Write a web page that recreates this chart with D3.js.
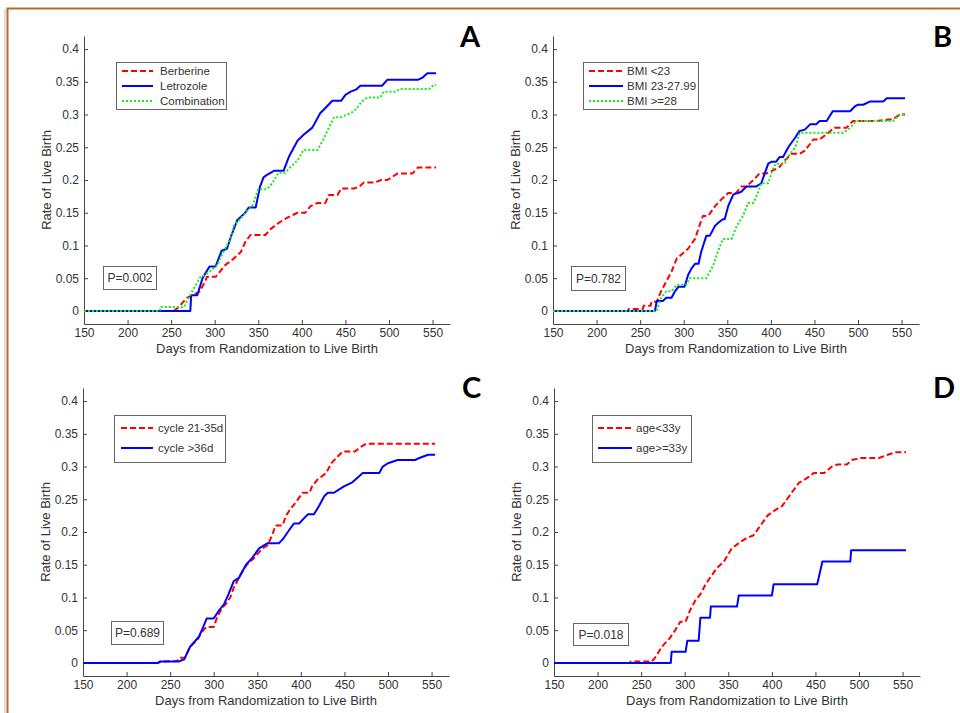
<!DOCTYPE html>
<html><head><meta charset="utf-8">
<script src="https://cdn.jsdelivr.net/npm/d3@7"></script>
<style>html,body{margin:0;padding:0;background:#fff;}svg{display:block;}</style>
</head><body>
<svg id="chart" width="960" height="713"></svg>
<script>
// ---------------- DATA ----------------
const xTicks = [150, 200, 250, 300, 350, 400, 450, 500, 550];
const yTicks = [0, 0.05, 0.1, 0.15, 0.2, 0.25, 0.3, 0.35, 0.4];
const yTickLabels = ["0", "0.05", "0.1", "0.15", "0.2", "0.25", "0.3", "0.35", "0.4"];
const panelLetters = ["A", "B", "C", "D"];
const pValues = ["P=0.002", "P=0.782", "P=0.689", "P=0.018"];
const xLabel = "Days from Randomization to Live Birth";
const yLabel = "Rate of Live Birth";

// Panel A
const seriesNamesA = ["Berberine", "Letrozole", "Combination"];
const berberineDays = [150,253,258,268,276,283,289,291,301,306,312,322,330,335,341,358,364,374,380,387,395,404,410,418,427,431,441,445,460,466,471,483,491,498,504,510,527,533,554];
const berberineRate = [0,0,0.005,0.02,0.025,0.03,0.045,0.052,0.052,0.06,0.07,0.08,0.09,0.105,0.116,0.116,0.125,0.135,0.14,0.145,0.15,0.15,0.16,0.165,0.165,0.177,0.177,0.187,0.187,0.19,0.196,0.196,0.2,0.2,0.205,0.21,0.21,0.219,0.219];
const letrozoleDays = [150,272,273,280,286,294,301,308,314,319,326,335,339,347,352,356,360,368,379,385,395,402,412,421,427,435,445,450,456,462,467,492,498,533,538,544,554];
const letrozoleRate = [0,0,0.024,0.024,0.05,0.068,0.068,0.092,0.095,0.115,0.139,0.15,0.158,0.158,0.19,0.204,0.208,0.214,0.214,0.235,0.26,0.269,0.28,0.302,0.31,0.321,0.321,0.33,0.335,0.338,0.344,0.344,0.353,0.353,0.356,0.363,0.363];
const combinationDays = [150,237,238,265,270,283,289,296,303,308,318,322,329,335,343,350,360,366,373,381,387,395,402,418,424,431,437,445,452,460,469,475,490,494,508,512,546,551,554];
const combinationRate = [0,0,0.006,0.006,0.02,0.051,0.055,0.062,0.07,0.085,0.11,0.13,0.14,0.15,0.16,0.186,0.186,0.195,0.211,0.211,0.22,0.23,0.246,0.246,0.26,0.28,0.296,0.296,0.3,0.305,0.32,0.326,0.326,0.335,0.335,0.339,0.339,0.345,0.345];

// Panel B
const seriesNamesB = ["BMI <23", "BMI 23-27.99", "BMI >=28"];
const bmiLowDays = [150,236,237,253,254,262,263,269,274,280,286,292,299,305,313,318,322,328,336,343,351,360,366,372,380,387,395,403,410,416,424,433,439,445,449,456,464,473,487,494,510,520,540,548,554];
const bmiLowRate = [0,0,0.003,0.003,0.008,0.008,0.014,0.014,0.03,0.045,0.06,0.08,0.088,0.095,0.11,0.13,0.145,0.145,0.16,0.17,0.18,0.18,0.19,0.19,0.2,0.21,0.21,0.215,0.22,0.23,0.24,0.24,0.245,0.255,0.262,0.262,0.27,0.28,0.28,0.29,0.29,0.29,0.293,0.3,0.3];
const bmiMidDays = [150,267,269,276,280,286,290,294,301,305,309,313,317,320,326,330,332,336,340,345,347,351,357,362,366,372,383,389,393,397,401,406,410,414,420,428,433,439,445,452,456,464,471,491,496,500,506,514,529,533,554];
const bmiMidRate = [0,0,0.015,0.015,0.02,0.02,0.03,0.037,0.037,0.055,0.065,0.072,0.072,0.09,0.115,0.115,0.12,0.13,0.135,0.14,0.14,0.16,0.178,0.18,0.182,0.19,0.19,0.195,0.21,0.225,0.228,0.228,0.235,0.235,0.25,0.265,0.275,0.277,0.285,0.285,0.29,0.29,0.305,0.305,0.312,0.315,0.315,0.32,0.32,0.325,0.325];
const bmiHighDays = [150,269,274,280,286,292,303,307,326,334,339,345,355,361,368,374,380,385,389,397,403,406,416,422,428,433,483,491,498,540,548,554];
const bmiHighRate = [0,0,0.02,0.03,0.03,0.04,0.04,0.05,0.05,0.07,0.09,0.11,0.11,0.13,0.145,0.165,0.165,0.18,0.195,0.195,0.22,0.225,0.225,0.24,0.25,0.272,0.272,0.28,0.29,0.29,0.3,0.3];

// Panel C
const seriesNamesC = ["cycle 21-35d", "cycle >36d"];
const cycleShortDays = [150,236,240,258,261,267,273,281,288,292,300,304,310,314,319,323,327,333,338,346,356,362,367,371,379,383,388,394,402,410,413,419,429,435,442,448,462,469,475,554];
const cycleShortRate = [0,0,0.002,0.003,0.008,0.008,0.025,0.035,0.05,0.055,0.055,0.07,0.085,0.09,0.1,0.115,0.125,0.14,0.15,0.16,0.175,0.18,0.195,0.21,0.21,0.225,0.235,0.245,0.26,0.26,0.27,0.28,0.29,0.305,0.315,0.323,0.323,0.33,0.335,0.335];
const cycleLongDays = [150,236,238,260,263,266,273,283,288,292,300,306,312,317,323,329,337,344,352,362,375,380,385,392,398,403,408,415,421,427,431,438,444,450,458,465,471,490,494,500,511,531,536,546,554];
const cycleLongRate = [0,0,0.002,0.002,0.004,0.005,0.025,0.04,0.055,0.068,0.068,0.08,0.09,0.105,0.125,0.13,0.15,0.16,0.175,0.183,0.183,0.19,0.2,0.213,0.213,0.22,0.227,0.227,0.24,0.255,0.26,0.26,0.265,0.27,0.275,0.283,0.29,0.29,0.3,0.305,0.31,0.31,0.313,0.318,0.318];

// Panel D
const seriesNamesD = ["age<33y", "age>=33y"];
const ageYoungDays = [150,237,238,262,266,274,283,289,295,301,306,312,318,324,329,337,345,354,362,370,379,387,395,402,412,420,431,441,448,460,469,475,486,492,502,523,533,542,554];
const ageYoungRate = [0,0,0.002,0.002,0.008,0.025,0.038,0.05,0.063,0.063,0.08,0.095,0.105,0.12,0.13,0.145,0.155,0.175,0.183,0.19,0.195,0.21,0.225,0.232,0.24,0.255,0.275,0.283,0.29,0.29,0.3,0.303,0.303,0.31,0.313,0.313,0.318,0.322,0.322];
const ageOldDays = [150,284,285,301,303,316,318,329,330,360,362,400,402,452,458,490,491,554];
const ageOldRate = [0,0,0.017,0.017,0.034,0.034,0.069,0.069,0.086,0.086,0.103,0.103,0.12,0.12,0.155,0.155,0.172,0.172];

// ---------------- STYLES / LAYOUT ----------------
const styles = {
  red:   {color: "#ff0000", dash: "6,3"},
  blue:  {color: "#0000ff", dash: null},
  green: {color: "#11ee11", dash: "2,2"}
};
const zip = (d, r) => d.map((v, i) => ({day: v, rate: r[i]}));

const panels = [
  {left: 84, top: 36, letter: [460, 47],
   legend: {x: 116, y: 62, w: 110, h: 47, rows: [71, 86, 101], lx: [122, 153], tx: 160},
   pbox: {x: 103, y: 266, w: 53, h: 23},
   series: [
     {name: seriesNamesA[0], data: zip(berberineDays, berberineRate), s: styles.red},
     {name: seriesNamesA[1], data: zip(letrozoleDays, letrozoleRate), s: styles.blue},
     {name: seriesNamesA[2], data: zip(combinationDays, combinationRate), s: styles.green}]},
  {left: 553, top: 36, letter: [933, 47],
   legend: {x: 583, y: 62, w: 115, h: 47, rows: [71, 86, 101], lx: [589, 623], tx: 627},
   pbox: {x: 571, y: 266, w: 54, h: 24},
   series: [
     {name: seriesNamesB[0], data: zip(bmiLowDays, bmiLowRate), s: styles.red},
     {name: seriesNamesB[1], data: zip(bmiMidDays, bmiMidRate), s: styles.blue},
     {name: seriesNamesB[2], data: zip(bmiHighDays, bmiHighRate), s: styles.green}]},
  {left: 83, top: 388, letter: [462, 398],
   legend: {x: 114, y: 415, w: 111, h: 47, rows: [428, 448], lx: [121, 153], tx: 158},
   pbox: {x: 111, y: 621, w: 52, h: 23},
   series: [
     {name: seriesNamesC[0], data: zip(cycleShortDays, cycleShortRate), s: styles.red},
     {name: seriesNamesC[1], data: zip(cycleLongDays, cycleLongRate), s: styles.blue}]},
  {left: 554, top: 388, letter: [933, 398],
   legend: {x: 592, y: 415, w: 99, h: 47, rows: [428, 448], lx: [598, 632], tx: 636},
   pbox: {x: 573, y: 623, w: 55, h: 22},
   series: [
     {name: seriesNamesD[0], data: zip(ageYoungDays, ageYoungRate), s: styles.red},
     {name: seriesNamesD[1], data: zip(ageOldDays, ageOldRate), s: styles.blue}]}
];

const W = 366, H = 288;
const svg = d3.select("#chart");
const font = "'Liberation Sans', Arial, sans-serif";
const textColor = "#333";
const axisColor = "#444";

// frame
svg.append("path").attr("d", "M5,713 V9").attr("stroke", "#ddd").attr("stroke-width", 2).attr("fill", "none");
svg.append("path").attr("d", "M7.5,713 V8.5 H960").attr("stroke", "#b86a2c").attr("stroke-width", 2).attr("fill", "none");

panels.forEach((p, pi) => {
  const x = d3.scaleLinear().domain([150, 570]).range([p.left, p.left + W]);
  const y = d3.scaleLinear().domain([-0.02, 0.42]).range([p.top + H, p.top]);
  const g = svg.append("g");

  // axes (ticks inward)
  const xAxis = d3.axisBottom(x).tickValues(xTicks).tickSize(-4).tickPadding(4).tickSizeOuter(0);
  const yAxis = d3.axisLeft(y).tickValues(yTicks).tickFormat((d, i) => yTickLabels[i]).tickSize(-4).tickPadding(7).tickSizeOuter(0);
  const gx = g.append("g").attr("transform", `translate(0,${p.top + H})`).call(xAxis);
  const gy = g.append("g").attr("transform", `translate(${p.left},0)`).call(yAxis);
  [gx, gy].forEach(a => {
    a.select(".domain").attr("stroke", axisColor);
    a.selectAll(".tick line").attr("stroke", axisColor);
    a.selectAll("text").attr("fill", textColor).style("font-family", font).style("font-size", "12px");
  });
  gy.selectAll("text").attr("x", -5);

  // labels
  g.append("text").attr("x", p.left + W / 2).attr("y", p.top + H + 29)
    .attr("text-anchor", "middle").attr("fill", textColor)
    .style("font-family", font).style("font-size", "13px").text(xLabel);
  g.append("text").attr("transform", `translate(${p.left - 33},${p.top + H / 2}) rotate(-90)`)
    .attr("text-anchor", "middle").attr("fill", textColor)
    .style("font-family", font).style("font-size", "13px").text(yLabel);

  // lines
  const line = d3.line().x(d => x(d.day)).y(d => y(d.rate));
  p.series.forEach(s => {
    g.append("path").datum(s.data).attr("d", line)
      .attr("fill", "none").attr("stroke", s.s.color).attr("stroke-width", 2)
      .attr("stroke-dasharray", s.s.dash).attr("stroke-linejoin", "round");
  });

  // legend
  const L = p.legend;
  g.append("rect").attr("x", L.x + 0.5).attr("y", L.y + 0.5).attr("width", L.w).attr("height", L.h)
    .attr("fill", "#fff").attr("stroke", "#666").attr("stroke-width", 1);
  p.series.forEach((s, i) => {
    g.append("line").attr("x1", L.lx[0]).attr("x2", L.lx[1]).attr("y1", L.rows[i]).attr("y2", L.rows[i])
      .attr("stroke", s.s.color).attr("stroke-width", 2).attr("stroke-dasharray", s.s.dash);
    g.append("text").attr("x", L.tx).attr("y", L.rows[i]).attr("dy", "0.35em")
      .attr("fill", textColor).style("font-family", font).style("font-size", "11.5px").text(s.name);
  });

  // p-value box
  const P = p.pbox;
  g.append("rect").attr("x", P.x + 0.5).attr("y", P.y + 0.5).attr("width", P.w).attr("height", P.h)
    .attr("fill", "#fff").attr("stroke", "#666").attr("stroke-width", 1);
  g.append("text").attr("x", P.x + P.w / 2 + 0.5).attr("y", P.y + P.h / 2 + 0.5).attr("dy", "0.35em")
    .attr("text-anchor", "middle").attr("fill", textColor)
    .style("font-family", font).style("font-size", "12px").text(pValues[pi]);

  // panel letter
  g.append("text").attr("x", p.letter[0]).attr("y", p.letter[1])
    .attr("fill", "#000").style("font-family", "Lato, 'Open Sans', sans-serif")
    .style("font-weight", "bold").style("font-size", "29px").text(panelLetters[pi]);
});
</script>
</body></html>
